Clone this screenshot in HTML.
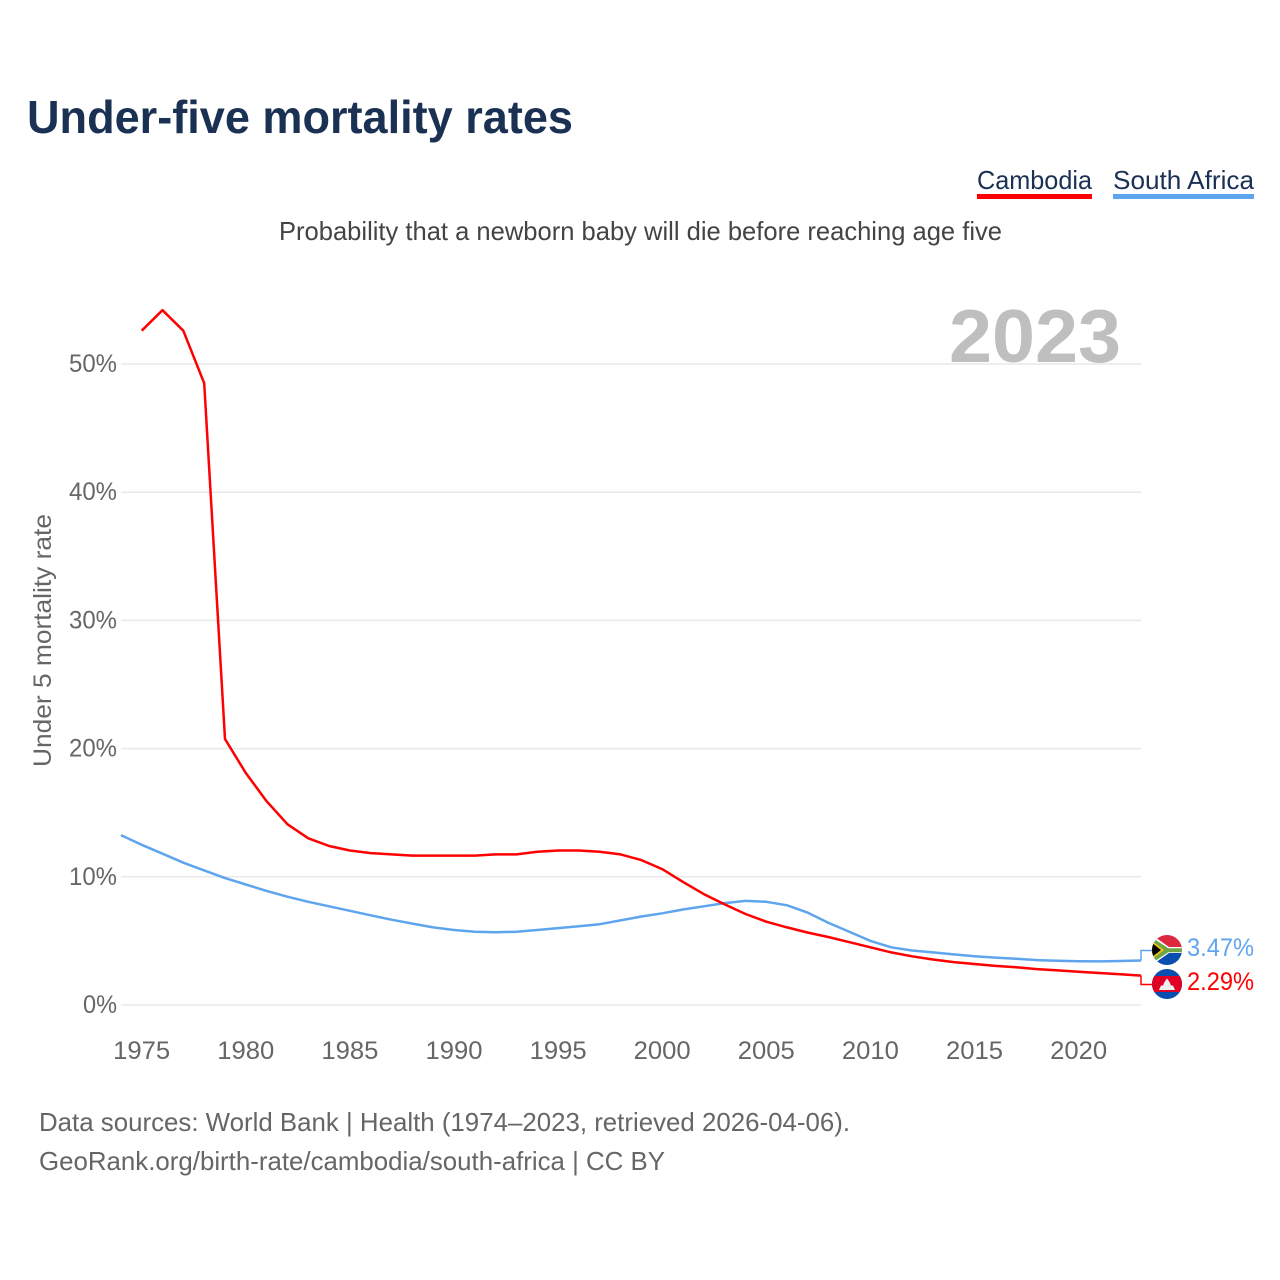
<!DOCTYPE html>
<html lang="en">
<head>
<meta charset="utf-8">
<title>Under-five mortality rates</title>
<style>
html,body{margin:0;padding:0;background:#fff;width:1280px;height:1280px;overflow:hidden}
svg{display:block}
text{font-family:"Liberation Sans",sans-serif}
</style>
</head>
<body>
<svg id="chart" xmlns="http://www.w3.org/2000/svg" width="1280" height="1280" viewBox="0 0 1280 1280">
  <defs>
    <clipPath id="clip-za"><circle cx="1167" cy="950" r="15"/></clipPath>
    <clipPath id="clip-kh"><circle cx="1167" cy="984" r="15"/></clipPath>
  </defs>
  <text x="27" y="133" font-size="46" font-weight="700" fill="#1a3154" textLength="546" lengthAdjust="spacingAndGlyphs">Under-five mortality rates</text>

  <g>
    <text x="977" y="189" font-size="26" fill="#1a3154" textLength="115" lengthAdjust="spacingAndGlyphs">Cambodia</text>
    <rect x="977" y="194" width="115" height="5" fill="#ff0000"/>
  </g>
  <g>
    <text x="1113" y="189" font-size="26" fill="#1a3154" textLength="141" lengthAdjust="spacingAndGlyphs">South Africa</text>
    <rect x="1113" y="194" width="141" height="5" fill="#5ea5ee"/>
  </g>

  <text x="279" y="240" font-size="26" fill="#444444" textLength="723" lengthAdjust="spacingAndGlyphs">Probability that a newborn baby will die before reaching age five</text>

  <g id="grid"></g>
  <g id="y-ticks"></g>
  <g id="x-ticks"></g>

  <text x="949" y="362" font-size="75" font-weight="700" fill="#bfbfbf" textLength="172" lengthAdjust="spacingAndGlyphs">2023</text>

  <text transform="translate(51 767) rotate(-90)" x="0" y="0" font-size="25" fill="#666666" textLength="253" lengthAdjust="spacingAndGlyphs">Under 5 mortality rate</text>

  <path id="line-za" fill="none" stroke="#5ea5ee" stroke-width="2.5" stroke-linejoin="round"/>
  <path id="line-kh" fill="none" stroke="#ff0000" stroke-width="2.5" stroke-linejoin="round"/>
  <path id="conn-za" fill="none" stroke="#5ea5ee" stroke-width="1.5"/>
  <path id="conn-kh" fill="none" stroke="#ff0000" stroke-width="1.5"/>

  <g clip-path="url(#clip-za)">
    <rect x="1152" y="935" width="30" height="15" fill="#de2840"/>
    <rect x="1152" y="950" width="30" height="15" fill="#0a4fb0"/>
    <path d="M1152 935 L1169 947 H1182 V953 H1169 L1152 965 Z" fill="#ffffff"/>
    <path d="M1152 939 L1168 949.5 H1182 V951 H1168 L1152 961.5 Z" fill="#6fa544" stroke="#6fa544" stroke-width="2.5"/>
    <path d="M1152 941 L1164 950 L1152 959 Z" fill="#f5c518"/>
    <path d="M1152 943 L1161 950 L1152 957 Z" fill="#000000"/>
  </g>
  <g clip-path="url(#clip-kh)">
    <rect x="1152" y="969" width="30" height="30" fill="#0a4fb0"/>
    <rect x="1152" y="976" width="30" height="16" fill="#e00025"/>
    <path d="M1159 990 L1161 985.5 H1163 L1164.5 982 L1167 978.5 L1169.5 982 L1171 985.5 H1173 L1175 990 Z" fill="#f0f0f0"/>
  </g>

  <text id="value-za" x="1187" y="956" font-size="25" fill="#5ea5ee" textLength="67" lengthAdjust="spacingAndGlyphs"></text>
  <text id="value-kh" x="1187" y="990" font-size="25" fill="#ff0000" textLength="67" lengthAdjust="spacingAndGlyphs"></text>

  <text x="39" y="1131" font-size="26" fill="#666666" textLength="811" lengthAdjust="spacingAndGlyphs">Data sources: World Bank | Health (1974–2023, retrieved 2026-04-06).</text>
  <text x="39" y="1170" font-size="26" fill="#666666" textLength="626" lengthAdjust="spacingAndGlyphs">GeoRank.org/birth-rate/cambodia/south-africa | CC BY</text>
</svg>
<script>
const yTicks = [0, 10, 20, 30, 40, 50];
const xTicks = [1975, 1980, 1985, 1990, 1995, 2000, 2005, 2010, 2015, 2020];
const southAfricaStart = 1974;
const southAfrica = [13.25,12.5,11.8,11.1,10.5,9.9,9.4,8.9,8.45,8.05,7.7,7.35,7.0,6.65,6.35,6.05,5.85,5.72,5.67,5.72,5.85,6.0,6.15,6.3,6.6,6.9,7.15,7.45,7.7,7.95,8.12,8.05,7.78,7.2,6.4,5.7,5.0,4.5,4.25,4.1,3.95,3.8,3.7,3.6,3.5,3.45,3.42,3.4,3.43,3.47];
const cambodiaStart = 1975;
const cambodia = [52.6,54.2,52.6,48.5,20.75,18.1,15.9,14.1,13.0,12.4,12.05,11.85,11.75,11.65,11.65,11.65,11.65,11.75,11.75,11.95,12.05,12.05,11.95,11.75,11.3,10.6,9.6,8.65,7.85,7.1,6.5,6.05,5.65,5.3,4.9,4.5,4.1,3.8,3.55,3.35,3.2,3.05,2.95,2.8,2.7,2.6,2.5,2.4,2.29];

const NS = 'http://www.w3.org/2000/svg';
const xScale = year => 141.7 + (year - 1975) * 20.82;
const yScale = value => 1005 - value * 12.82;
const linePath = (start, values) => values.map((v, i) => (i ? 'L' : 'M') + xScale(start + i).toFixed(1) + ' ' + yScale(v).toFixed(1)).join(' ');

const grid = document.getElementById('grid');
const yGroup = document.getElementById('y-ticks');
const xGroup = document.getElementById('x-ticks');

yTicks.forEach(t => {
  const line = document.createElementNS(NS, 'line');
  
  
  line.setAttribute('x1', 121);
  line.setAttribute('x2', 1141);
  line.setAttribute('y1', yScale(t));
  line.setAttribute('y2', yScale(t));
  line.setAttribute('stroke', '#e9e9e9');
  line.setAttribute('stroke-width', 1.5);
  grid.appendChild(line);

  const label = document.createElementNS(NS, 'text');
  
  
  label.setAttribute('x', 117);
  label.setAttribute('y', yScale(t) + 8);
  label.setAttribute('text-anchor', 'end');
  label.setAttribute('font-size', 25);
  label.setAttribute('fill', '#666666');
  label.setAttribute('textLength', t === 0 ? 34 : 48);
  label.setAttribute('lengthAdjust', 'spacingAndGlyphs');
  label.textContent = t + '%';
  yGroup.appendChild(label);
});

xTicks.forEach(t => {
  const label = document.createElementNS(NS, 'text');
  
  
  label.setAttribute('x', xScale(t));
  label.setAttribute('y', 1059);
  label.setAttribute('text-anchor', 'middle');
  label.setAttribute('font-size', 25);
  label.setAttribute('fill', '#666666');
  label.setAttribute('textLength', 57);
  label.setAttribute('lengthAdjust', 'spacingAndGlyphs');
  label.textContent = t;
  xGroup.appendChild(label);
});

document.getElementById('line-za').setAttribute('d', linePath(southAfricaStart, southAfrica));
document.getElementById('line-kh').setAttribute('d', linePath(cambodiaStart, cambodia));

const lastZa = southAfrica[southAfrica.length - 1];
const lastKh = cambodia[cambodia.length - 1];
document.getElementById('conn-za').setAttribute('d', 'M1141 ' + yScale(lastZa).toFixed(1) + ' V950.5 H1152');
document.getElementById('conn-kh').setAttribute('d', 'M1141 ' + yScale(lastKh).toFixed(1) + ' V984.5 H1152');
document.getElementById('value-za').textContent = lastZa.toFixed(2) + '%';
document.getElementById('value-kh').textContent = lastKh.toFixed(2) + '%';
</script>
</body>
</html>
